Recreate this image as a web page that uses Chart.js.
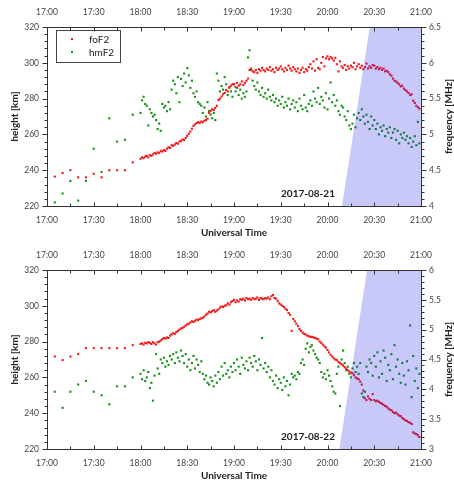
<!DOCTYPE html>
<html>
<head>
<meta charset="utf-8">
<script src="https://cdn.jsdelivr.net/npm/chart.js@4.4.0/dist/chart.umd.min.js"></script>
<style>
  body { margin: 0; background: #fff; }
  .panel { position: relative; width: 454px; }
  canvas { display: block; }
</style>
</head>
<body>
<div class="panel"><canvas id="top" width="454" height="243"></canvas></div>
<div class="panel"><canvas id="bottom" width="454" height="242"></canvas></div>
<script>
// time stamps: minutes after 17:00 UT
const times21 = [5, 10, 15, 20, 25, 30, 35, 40, 45, 50, 55,
  60, 61, 62, 63, 64, 65, 66, 67, 68, 69, 70, 71, 72, 73, 74, 75, 76, 77, 78, 79,
  80, 81, 82, 83, 84, 85, 86, 87, 88, 89, 90, 91, 92, 93, 94, 95, 96, 97, 98, 99,
  100, 101, 102, 103, 104, 105, 106, 107, 108, 109, 110, 111, 112, 113, 114, 115, 116, 117, 118, 119,
  120, 121, 122, 123, 124, 125, 126, 127, 128, 129, 130, 131, 132, 133, 134, 135, 136, 137, 138, 139,
  140, 141, 142, 143, 144, 145, 146, 147, 148, 149, 150, 151, 152, 153, 154, 155, 156, 157, 158, 159,
  160, 161, 162, 163, 164, 165, 166, 167, 168, 169, 170, 171, 172, 173, 174, 175, 176, 177, 178, 179,
  180, 181, 182, 183, 184, 185, 186, 187, 188, 189, 190, 191, 192, 193, 194, 195, 196, 197, 198, 199,
  200, 201, 202, 203, 204, 205, 206, 207, 208, 209, 210, 211, 212, 213, 214, 215, 216, 217, 218, 219,
  220, 221, 222, 223, 224, 225, 226, 227, 228, 229, 230, 231, 232, 233, 234, 235, 236, 237, 238, 239];

const foF2_21 = [4.41, 4.46, 4.50, 4.40, 4.40, 4.45, 4.40, 4.50, 4.50, 4.50, 4.61,
  4.66, 4.68, 4.67, 4.69, 4.70, 4.68, 4.71, 4.70, 4.72, 4.74,
  4.73, 4.75, 4.74, 4.77, 4.76, 4.78, 4.77, 4.80, 4.82, 4.81,
  4.85, 4.84, 4.86, 4.88, 4.87, 4.90, 4.91, 4.93, 4.92, 4.95,
  4.98, 5.01, 5.04, 5.08, 5.12, 5.14, 5.16, 5.17, 5.16, 5.18,
  5.17, 5.19, 5.20, 5.22, 5.30, 5.33, 5.35, 5.34, 5.37, 5.40,
  5.48, 5.50, 5.53, 5.56, 5.58, 5.62, 5.60, 5.66, 5.68, 5.70,
  5.70, 5.66, 5.72, 5.68, 5.70, 5.74, 5.69, 5.72, 5.75, 5.78,
  5.90, 5.92, 5.88, 5.87, 5.90, 5.86, 5.91, 5.89, 5.93, 5.90,
  5.88, 5.92, 5.90, 5.94, 5.89, 5.91, 5.87, 5.93, 5.90, 5.92,
  5.95, 5.91, 5.88, 5.93, 5.90, 5.96, 5.92, 5.89, 5.94, 5.91,
  5.88, 5.92, 5.86, 5.90, 5.93, 5.87, 5.91, 5.89, 5.94, 5.98,
  5.92, 6.02, 5.89, 6.05, 5.93, 5.91, 6.00, 6.08, 5.95, 6.06,
  6.09, 6.05, 6.08, 6.06, 6.03, 6.07, 5.98, 5.88, 6.02, 5.95,
  5.93, 5.97, 5.90, 5.95, 5.92, 5.96, 5.94, 6.00, 5.91, 5.95,
  5.98, 5.93, 5.96, 5.91, 5.94, 5.99, 5.92, 5.95, 5.93, 5.97,
  5.96, 5.92, 5.94, 5.91, 5.93, 5.90, 5.92, 5.88, 5.89, 5.87,
  5.84, 5.82, 5.78, 5.75, 5.74, 5.72, 5.70, 5.67, 5.68, 5.64,
  5.62, 5.60, 5.58, 5.55, 5.56, 5.47, 5.44, 5.40, 5.38, 5.36];

const hmF2_21 = [222, 227, 234, 223, 234, 252, 239, 269, 256, 257, 271,
  272, 279, 281, 277, 276, 265, 274, 272, 270, 271,
  268, 263, 266, 262, 277, 275, 276, 273, 278, 274,
  285, 290, 288, 283, 292, 278, 291, 287, 294, 289,
  297, 293, 286, 290, 283, 281, 284, 278, 277, 276,
  272, 275, 270, 278, 273, 271, 269, 272, 268, 294,
  290, 284, 287, 285, 292, 288, 282, 286, 284, 281,
  288, 284, 286, 282, 285, 280, 283, 281, 284, 303,
  307, 296, 290, 287, 285, 289, 284, 282, 286, 281,
  283, 280, 285, 281, 279, 282, 278, 280, 276, 279,
  277, 281, 275, 278, 276, 280, 274, 277, 279, 275,
  278, 273, 280, 276, 274, 282, 275, 273, 277, 279,
  276, 284, 280, 278, 286, 277, 281, 279, 275, 283,
  274, 280, 289, 278, 282, 276, 279, 273, 271, 276,
  275, 270, 268, 273, 265, 263, 266, 271, 264, 269,
  272, 268, 274, 270, 266, 271, 267, 263, 270, 265,
  268, 263, 266, 260, 264, 262, 265, 259, 263, 261,
  264, 258, 261, 263, 257, 262, 255, 260, 258, 261,
  257, 259, 255, 258, 253, 256, 259, 254, 267, 255];

const times22 = [0, 5, 10, 15, 20, 25, 30, 35, 40, 45, 50, 55,
  60, 61, 62, 63, 64, 65, 66, 67, 68, 69, 70, 71, 72, 73, 74, 75, 76, 77, 78, 79,
  80, 81, 82, 83, 84, 85, 86, 87, 88, 89, 90, 91, 92, 93, 94, 95, 96, 97, 98, 99,
  100, 101, 102, 103, 104, 105, 106, 107, 108, 109, 110, 111, 112, 113, 114, 115, 116, 117, 118, 119,
  120, 121, 122, 123, 124, 125, 126, 127, 128, 129, 130, 131, 132, 133, 134, 135, 136, 137, 138, 139,
  140, 141, 142, 143, 144, 145, 146, 147, 148, 149, 150, 151, 152, 153, 154, 155, 156, 157, 158, 159,
  160, 161, 162, 163, 164, 165, 166, 167, 168, 169, 170, 171, 172, 173, 174, 175, 176, 177, 178, 179,
  180, 181, 182, 183, 184, 185, 186, 187, 188, 189, 190, 191, 192, 193, 194, 195, 196, 197, 198, 199,
  200, 201, 202, 203, 204, 205, 206, 207, 208, 209, 210, 211, 212, 213, 214, 215, 216, 217, 218, 219,
  220, 221, 222, 223, 224, 225, 226, 227, 228, 229, 230, 231, 232, 233, 234, 235, 236, 237, 238, 239];

const foF2_22 = [4.52, 4.55, 4.49, 4.55, 4.59, 4.69, 4.69, 4.69, 4.69, 4.69, 4.69, 4.74,
  4.76, 4.77, 4.75, 4.78, 4.77, 4.79, 4.78, 4.76, 4.79, 4.77,
  4.75, 4.79, 4.80, 4.82, 4.84, 4.86, 4.85, 4.87, 4.86, 4.90,
  4.92, 4.94, 4.93, 4.96, 4.98, 5.00, 5.02, 5.03, 5.05, 5.07,
  5.09, 5.10, 5.12, 5.14, 5.13, 5.15, 5.17, 5.16, 5.18, 5.19,
  5.20, 5.22, 5.25, 5.27, 5.30, 5.29, 5.31, 5.33, 5.30, 5.32,
  5.34, 5.37, 5.39, 5.38, 5.40, 5.41, 5.44, 5.42, 5.46, 5.48,
  5.50, 5.46, 5.49, 5.47, 5.51, 5.50, 5.52, 5.49, 5.53, 5.51,
  5.52, 5.50, 5.53, 5.51, 5.52, 5.54, 5.50, 5.53, 5.52, 5.51,
  5.53, 5.52, 5.54, 5.51, 5.56, 5.58, 5.53, 5.52, 5.48, 5.44,
  5.42, 5.40, 5.38, 5.35, 5.33, 5.28, 5.25, 4.98, 5.18, 5.14,
  5.10, 5.06, 5.01, 4.98, 4.95, 4.93, 4.92, 4.90, 4.89, 4.88,
  4.88, 4.87, 4.86, 4.85, 4.84, 4.80, 4.78, 4.75, 4.72, 4.70,
  4.66, 4.62, 4.58, 4.55, 4.52, 4.50, 4.49, 4.46, 4.44, 4.42,
  4.40, 4.37, 4.35, 4.32, 4.30, 4.28, 4.27, 4.24, 4.20, 4.18,
  4.17, 4.13, 4.08, 3.98, 3.85, 3.82, 3.88, 3.84, 3.82, 3.92,
  3.82, 3.80, 3.81, 3.79, 3.77, 3.76, 3.74, 3.72, 3.71, 3.68,
  3.66, 3.65, 3.62, 3.60, 3.61, 3.58, 3.56, 3.55, 3.52, 3.50,
  3.48, 3.47, 3.45, 3.44, 3.42, 3.28, 3.26, 3.25, 3.23, 3.20];

const hmF2_22 = [null, 252, 243, 252, 256, 258, 252, 250, 245, 255, 255, 260,
  262, 259, 264, 258, 260, 263, 254, 257, 247, 261,
  273, 265, 262, 270, 268, 271, 266, 269, 267, 272,
  270, 273, 268, 274, 271, 269, 275, 272, 268, 273,
  266, 270, 264, 268, 272, 265, 270, 267, 263, 269,
  262, 259, 261, 257, 256, 260, 258, 255, 261, 257,
  263, 259, 266, 261, 268, 262, 264, 260, 266, 263,
  268, 264, 270, 266, 262, 271, 267, 265, 269, 264,
  271, 268, 266, 272, 269, 264, 270, 267, 282, 265,
  268, 263, 266, 260, 264, 258, 256, 261, 254, 259,
  257, 253, 260, 255, 258, 250, 256, 262, 260, 261,
  259, 263, 262, 268, 270, 267, 276, 279, 274, 277,
  278, 275, 273, 271, 270, 268, 263, 260, 262, 259,
  264, 261, 258, 255, 252, 251, 262, 266, 244, 270,
  275, 268, 264, 266, 262, 260, 265, 268, 263, 266,
  262, 268, 251, 249, 252, 266, 263, 270, 268, 261,
  272, 266, 274, 260, 269, 262, 275, 271, 258, 267,
  264, 273, 259, 278, 266, 270, 262, 257, 268, 261,
  256, 269, 264, 289, 249, 272, 258, 265, 254, 262];

// shaded (sunlit-boundary) region corners: time [min], height [km]
const shadeX21 = [189.3, 207.1, 240];
const shadeX22 = [187.6, 205.4, 240];
const shadeY = [220, 320, 320];

const RED = 'rgb(245,25,25)';
const GREEN = 'rgb(25,145,25)';
const SHADE = 'rgba(30,30,230,0.24)';
const FONT = 'Lato, "DejaVu Sans", sans-serif';

function pts(xs, ys) {
  const out = [];
  xs.forEach((x, i) => { if (ys[i] != null) out.push({ x: x, y: ys[i] }); });
  return out;
}

function hhmm(v) {
  const m = 17 * 60 + v;
  return Math.floor(m / 60) + ':' + String(m % 60).padStart(2, '0');
}

// frame, minor ticks, right title, date label, legend
const decor = {
  id: 'decor',
  afterDatasetsDraw(chart, args, o) {
    const { ctx, chartArea: a, scales } = chart;
    const L = Math.round(a.left) + 0.5, R = Math.round(a.right) + 0.5;
    const T = Math.round(a.top) + 0.5, B = Math.round(a.bottom) + 0.5;
    ctx.save();
    ctx.strokeStyle = '#333';
    ctx.lineWidth = 1;
    ctx.strokeRect(L, T, R - L, B - T);
    ctx.beginPath();
    for (let t = 0; t <= 240; t += 15) {
      const x = Math.round(scales.x.getPixelForValue(t)) + 0.5;
      const len = t % 30 === 0 ? 4 : 3;
      ctx.moveTo(x, B); ctx.lineTo(x, B - len);
      ctx.moveTo(x, T); ctx.lineTo(x, T + len);
    }
    for (let h = 220; h <= 320; h += 4) {
      const y = Math.round(scales.y.getPixelForValue(h)) + 0.5;
      const len = h % 20 === 0 ? 5 : 3;
      ctx.moveTo(L, y); ctx.lineTo(L - len, y);
    }
    const n = Math.round((o.fMax - o.fMin) * 10);
    for (let i = 0; i <= n; i++) {
      const f = o.fMin + i / 10;
      const y = Math.round(scales.y2.getPixelForValue(f)) + 0.5;
      const len = i % 5 === 0 ? 5 : 3;
      ctx.moveTo(R, y); ctx.lineTo(R + len, y);
    }
    ctx.stroke();

    ctx.fillStyle = '#222';
    ctx.font = 'bold 10px ' + FONT;
    ctx.textAlign = 'center';
    ctx.textBaseline = 'middle';
    ctx.save();
    ctx.translate(449, (a.top + a.bottom) / 2);
    ctx.rotate(-Math.PI / 2);
    ctx.fillText('frequency [MHz]', 0, 0);
    ctx.restore();

    ctx.fillText(o.date, a.left + 261, a.bottom - 12);

    if (o.legend) {
      const lx = a.left + 9, ly = a.top + 3;
      ctx.strokeStyle = '#444';
      ctx.strokeRect(lx + 0.5, ly + 0.5, 64, 32);
      ctx.font = '10px ' + FONT;
      ctx.textAlign = 'left';
      ctx.fillStyle = RED;
      ctx.fillRect(lx + 15, ly + 8, 2, 2);
      ctx.fillStyle = GREEN;
      ctx.fillRect(lx + 15, ly + 21, 2, 2);
      ctx.fillStyle = '#222';
      ctx.fillText('foF2', lx + 33, ly + 9.5);
      ctx.fillText('hmF2', lx + 33, ly + 22.5);
    }
    ctx.restore();
  }
};

function makeChart(id, times, fo, hm, shadeX, fMin, fMax, date, legend, bottomH, titlePad) {
  const tickFont = { family: FONT, size: 8.5 };
  const titleFont = { family: FONT, size: 10, weight: 'bold', lineHeight: 1 };
  new Chart(document.getElementById(id), {
    type: 'scatter',
    data: {
      datasets: [{
        type: 'line',
        data: pts(shadeX, shadeY),
        yAxisID: 'y',
        fill: 'start',
        backgroundColor: SHADE,
        borderWidth: 0,
        pointRadius: 0,
        tension: 0
      }, {
        label: 'foF2',
        data: pts(times, fo),
        yAxisID: 'y2',
        pointStyle: 'rect',
        pointRadius: 1.5,
        borderWidth: 0,
        backgroundColor: RED
      }, {
        label: 'hmF2',
        data: pts(times, hm),
        yAxisID: 'y',
        pointStyle: 'rect',
        pointRadius: 1.5,
        borderWidth: 0,
        backgroundColor: GREEN
      }]
    },
    options: {
      responsive: false,
      animation: false,
      layout: { padding: 0 },
      plugins: {
        legend: { display: false },
        tooltip: { enabled: false },
        decor: { fMin: fMin, fMax: fMax, date: date, legend: legend }
      },
      scales: {
        x: {
          type: 'linear', position: 'bottom', min: 0, max: 240,
          grid: { display: false, drawTicks: false }, border: { display: false },
          ticks: { stepSize: 30, autoSkip: false, maxRotation: 0, padding: 9, color: '#444', font: tickFont, callback: hhmm },
          title: { display: true, text: 'Universal Time', color: '#222', font: titleFont, padding: { top: 0, bottom: titlePad } },
          afterFit: s => { s.height = bottomH; }
        },
        x2: {
          type: 'linear', position: 'top', min: 0, max: 240, display: true,
          grid: { display: false, drawTicks: false }, border: { display: false },
          ticks: { stepSize: 30, autoSkip: false, maxRotation: 0, padding: 10, color: '#444', font: tickFont, callback: hhmm },
          afterFit: s => { s.height = 27; }
        },
        y: {
          type: 'linear', position: 'left', min: 220, max: 320,
          grid: { display: false, drawTicks: false }, border: { display: false },
          ticks: { stepSize: 20, autoSkip: false, padding: 8, color: '#444', font: tickFont },
          title: { display: true, text: 'height [km]', color: '#222', font: titleFont, padding: { top: 10, bottom: 0 } },
          afterFit: s => { s.width = 47; }
        },
        y2: {
          type: 'linear', position: 'right', min: fMin, max: fMax,
          grid: { display: false, drawTicks: false }, border: { display: false },
          ticks: { stepSize: 0.5, autoSkip: false, padding: 8, color: '#444', font: tickFont,
                   callback: v => String(+v.toFixed(1)) },
          afterFit: s => { s.width = 33; }
        }
      }
    },
    plugins: [decor]
  });
}

makeChart('top', times21, foF2_21, hmF2_21, shadeX21, 4, 6.5, '2017-08-21', true, 37, 5);
makeChart('bottom', times22, foF2_22, hmF2_22, shadeX22, 3, 6, '2017-08-22', false, 36, 4);
</script>
</body>
</html>
